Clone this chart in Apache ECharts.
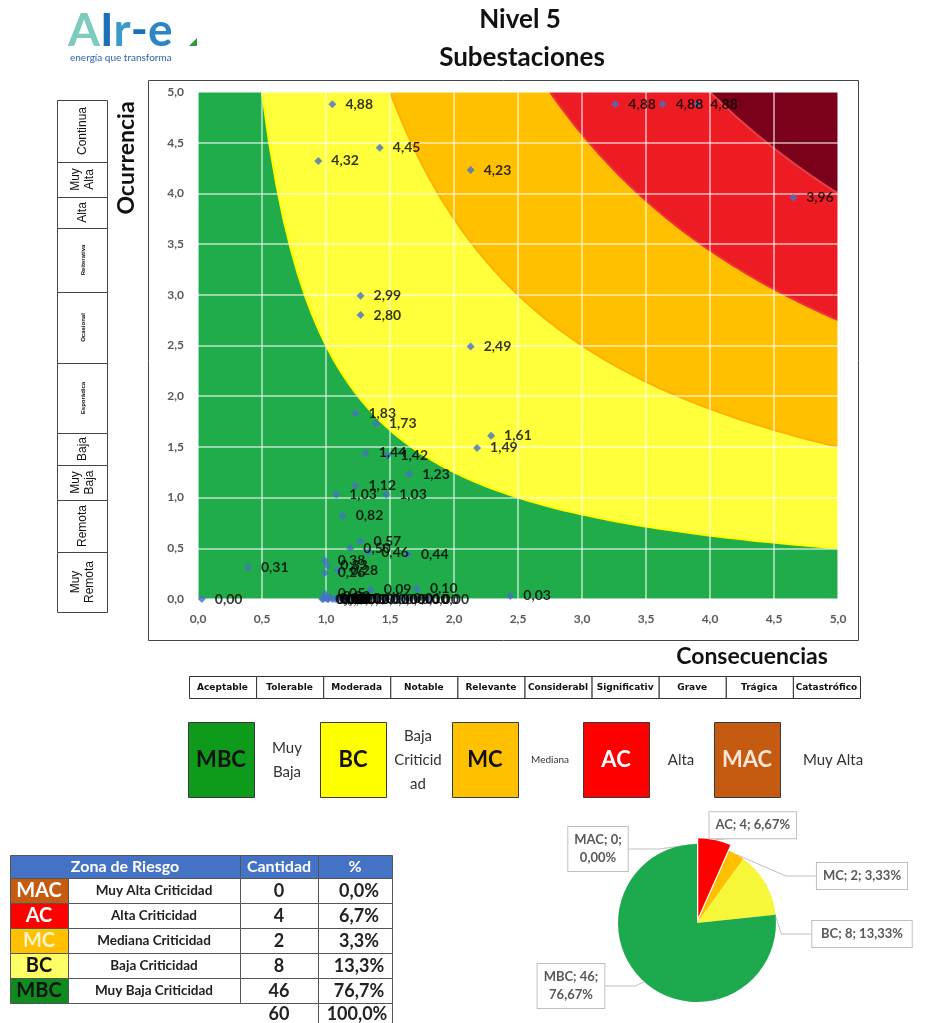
<!DOCTYPE html>
<html><head><meta charset="utf-8">
<script src="https://cdn.jsdelivr.net/npm/echarts@6/dist/echarts.min.js"></script>
<style>html,body{margin:0;padding:0;background:#fff}#c{width:925px;height:1023px}</style>
</head><body><div id="c"></div>
<script>
// ---------------- DATA ----------------
const consecuencias = [1.05,1.42,0.94,2.13,3.26,3.63,3.90,4.65,1.27,1.27,2.13,
  1.23,1.39,2.29,2.18,1.31,1.48,1.65,1.23,1.08,1.47,1.13,
  1.27,1.19,1.33,1.64,0.39,0.99,1.01,0.99,1.09,
  0.03,1.35,1.71,2.44,0.99,
  0.97,0.98,1.00,1.01,1.02,1.03,1.05,1.07,1.10,1.14,1.18,1.22,1.27,1.33,1.40,1.46,1.52,1.58,1.64,1.72,1.80];
const ocurrencia = [4.88,4.45,4.32,4.23,4.88,4.88,4.88,3.96,2.99,2.80,2.49,
  1.83,1.73,1.61,1.49,1.44,1.42,1.23,1.12,1.03,1.03,0.82,
  0.57,0.50,0.46,0.44,0.31,0.38,0.33,0.26,0.28,
  0.00,0.09,0.10,0.03,0.05,
  0.00,0.00,0.01,0.00,0.00,0.02,0.00,0.00,0.01,0.00,0.00,0.00,0.01,0.00,0.00,0.00,0.00,0.01,0.00,0.00,0.00];
const zoneThresholds = [2.5, 7.5, 13.75, 20];        // riesgo = consecuencia x ocurrencia
const zoneCodes = ['MAC','AC','MC','BC','MBC'];
const zoneNames = ['Muy Alta Criticidad','Alta Criticidad','Mediana Criticidad','Baja Criticidad','Muy Baja Criticidad'];
const zoneCounts = [0,4,2,8,46];
const zonePct = ['0,0%','6,7%','3,3%','13,3%','76,7%'];
const totalCount = '60', totalPct = '100,0%';
const consecLabels = ['Aceptable','Tolerable','Moderada','Notable','Relevante','Considerable','Significativo','Grave','Trágica','Catastrófico'];
const ocurrLabels = ['Continua','Muy\nAlta','Alta','Reiterativa','Ocasional','Esporádica','Baja','Muy\nBaja','Remota','Muy\nRemota'];
const legendCodes = ['MBC','BC','MC','AC','MAC'];
const legendTexts = ['Muy\nBaja','Baja\nCriticid\nad','Mediana','Alta','Muy Alta'];
const xTicks = 0.5, yTicks = 0.5;

// ---------------- STYLE ----------------
const F = 'Lato, "Open Sans", sans-serif';
const fmt = v => v.toFixed(2).replace('.', ',');
const areaFill = ['#FFFF3C','#FFC000','#ED1C24','#7B0019'];
const areaLine = ['#FFFF00','#FFB000','#F0303A','#E8404A'];
const pieColors = {MAC:'#C55A11', AC:'#FF0000', MC:'#FFC000', BC:'#F7F73A', MBC:'#1DAA4E'};
const codeFill = {MAC:['#C55A11','#fff'], AC:['#FF0000','#fff'], MC:['#FFC000','#FFF2CC'], BC:['#FFFF66','#111'], MBC:['#0E8C1E','#111']};
const legFill = {MBC:['#0E9A1A','#111'], BC:['#FFFF00','#111'], MC:['#FFC000','#111'], AC:['#FF0000','#fff'], MAC:['#C55A11','#FBE5D6']};

function boundary(k){
  const pts = [];
  const x0 = k/5;
  for (let i=0;i<=80;i++){ const x = x0 + (5-x0)*i/80; pts.push([x, k/x]); }
  return pts;
}

const g = [];
// logo
g.push({type:'text', left:68, top:8, style:{text:'{a|A}{b|I}{c|r}{d|-}{e|e}', font:'bold 46px '+F,
  rich:{a:{fill:'#7ccbbd', font:'bold 46px '+F}, b:{fill:'#1d6fb8', font:'bold 46px '+F}, c:{fill:'#3a9bc9', font:'bold 46px '+F},
        d:{fill:'#1d6fb8', font:'bold 46px '+F}, e:{fill:'#2a86c6', font:'bold 46px '+F}}}});
g.push({type:'polygon', shape:{points:[[189,46],[197,38],[197,46]]}, style:{fill:'#2e9a3a'}});
g.push({type:'text', left:70, top:53, style:{text:'energía que transforma', font:'10px '+F, fill:'#2f5fae'}});
// titles
g.push({type:'text', x:520, y:20, style:{text:'Nivel 5', font:'bold 26px '+F, fill:'#111', align:'center', verticalAlign:'middle'}});
g.push({type:'text', x:522, y:58, style:{text:'Subestaciones', font:'bold 26px '+F, fill:'#111', align:'center', verticalAlign:'middle'}});
// chart frame
g.push({type:'rect', shape:{x:148.5,y:80.5,width:710,height:560}, style:{fill:'none', stroke:'#444', lineWidth:1}, z:-1});
// axis titles
g.push({type:'text', x:127, y:158, rotation:Math.PI/2, style:{text:'Ocurrencia', font:'bold 23px '+F, fill:'#111', align:'center', verticalAlign:'middle'}});
g.push({type:'text', x:752, y:657, style:{text:'Consecuencias', font:'bold 23px '+F, fill:'#111', align:'center', verticalAlign:'middle'}});
// ocurrencia table (left)
const oB = [100,162,197,228,292,363,433,465,500,552,612];
ocurrLabels.forEach((t,i)=>{
  const y0=oB[i], y1=oB[i+1];
  g.push({type:'rect', shape:{x:57.5,y:y0+0.5,width:50,height:y1-y0}, style:{fill:'#fff', stroke:'#444', lineWidth:1}});
  const small = (t==='Reiterativa'||t==='Ocasional'||t==='Esporádica');
  g.push({type:'text', x:83, y:(y0+y1)/2, rotation:Math.PI/2, style:{text:t, font:(small?'bold 6px ':'12px ')+'"Liberation Sans", Arial, sans-serif', fill:'#111', align:'center', verticalAlign:'middle', lineHeight:14}});
});
// consecuencias row
consecLabels.forEach((t,i)=>{
  const x0 = 189 + i*67.1;
  g.push({type:'rect', shape:{x:x0+0.5,y:676.5,width:67.1,height:22}, style:{fill:'#fff', stroke:'#333', lineWidth:1}});
  g.push({type:'text', x:x0+33.5, y:688, style:{text:t, font:'bold 9px "DejaVu Sans", sans-serif', fill:'#111', align:'center', verticalAlign:'middle', width:64, overflow:'truncate', ellipsis:''}});
});
// legend boxes
const legX = [188,320,452,583,714];
const legTX = [287,418,550,681,833];
legendCodes.forEach((c,i)=>{
  g.push({type:'rect', shape:{x:legX[i]+0.5,y:722.5,width:66,height:75}, style:{fill:legFill[c][0], stroke:'#3a3a3a', lineWidth:1}});
  g.push({type:'text', x:legX[i]+33, y:760, style:{text:c, font:'bold 22px '+F, fill:legFill[c][1], align:'center', verticalAlign:'middle'}});
  const small = c==='MC';
  g.push({type:'text', x:legTX[i], y:760, style:{text:legendTexts[i], font:(small?'10px ':'15px ')+F, fill:'#333', align:'center', verticalAlign:'middle', lineHeight:24}});
});
// data table
const cx = [10,68,240,318,392];
g.push({type:'rect', shape:{x:cx[0]+0.5,y:855.5,width:cx[4]-cx[0],height:23}, style:{fill:'#4472C4', stroke:'#555', lineWidth:1}});
g.push({type:'line', shape:{x1:cx[2]+0.5,y1:855,x2:cx[2]+0.5,y2:878}, style:{stroke:'#555'}});
g.push({type:'line', shape:{x1:cx[3]+0.5,y1:855,x2:cx[3]+0.5,y2:878}, style:{stroke:'#555'}});
[['Zona de Riesgo',(cx[0]+cx[2])/2],['Cantidad',(cx[2]+cx[3])/2],['%',(cx[3]+cx[4])/2]].forEach(h=>{
  g.push({type:'text', x:h[1], y:867, style:{text:h[0], font:'bold 16px '+F, fill:'#fff', align:'center', verticalAlign:'middle'}});
});
zoneCodes.forEach((c,i)=>{
  const y0 = 878 + i*25;
  g.push({type:'rect', shape:{x:cx[0]+0.5,y:y0+0.5,width:cx[1]-cx[0],height:25}, style:{fill:codeFill[c][0], stroke:'#555', lineWidth:1}});
  g.push({type:'text', x:(cx[0]+cx[1])/2, y:y0+13, style:{text:c, font:'bold 20px '+F, fill:codeFill[c][1], align:'center', verticalAlign:'middle'}});
  for (let j=1;j<4;j++) g.push({type:'rect', shape:{x:cx[j]+0.5,y:y0+0.5,width:cx[j+1]-cx[j],height:25}, style:{fill:'#fff', stroke:'#555', lineWidth:1}});
  g.push({type:'text', x:(cx[1]+cx[2])/2, y:y0+13, style:{text:zoneNames[i], font:'bold 13.5px '+F, fill:'#222', align:'center', verticalAlign:'middle'}});
  g.push({type:'text', x:(cx[2]+cx[3])/2, y:y0+13, style:{text:String(zoneCounts[i]), font:'bold 18px '+F, fill:'#222', align:'center', verticalAlign:'middle'}});
  g.push({type:'text', x:(cx[3]+cx[4])/2+4, y:y0+13, style:{text:zonePct[i], font:'bold 18px '+F, fill:'#222', align:'center', verticalAlign:'middle'}});
});
g.push({type:'rect', shape:{x:cx[3]+0.5,y:1003.5,width:cx[4]-cx[3],height:22}, style:{fill:'#fff', stroke:'#555', lineWidth:1}});
g.push({type:'text', x:(cx[2]+cx[3])/2, y:1014, style:{text:totalCount, font:'bold 18px '+F, fill:'#222', align:'center', verticalAlign:'middle'}});
g.push({type:'text', x:(cx[3]+cx[4])/2+2, y:1014, style:{text:totalPct, font:'bold 18px '+F, fill:'#222', align:'center', verticalAlign:'middle'}});

// series
const series = zoneThresholds.map((k,i)=>({
  type:'line', data:boundary(k), showSymbol:false, symbol:'none', silent:true, z:2+i*0.01,
  lineStyle:{color:areaLine[i], width:2}, areaStyle:{color:areaFill[i], origin:'end', opacity:1}
}));
series.push({
  type:'scatter', z:5, symbol:'diamond', symbolSize:8, itemStyle:{color:'#4472C4'},
  data: consecuencias.map((x,i)=>[x, ocurrencia[i]]),
  label:{show:true, position:'right', distance:9, formatter:p=>fmt(p.value[1]), color:'#000', fontWeight:'bold', fontSize:14, fontFamily:F}
});
const pieLabelPos = {MAC:[598,849], AC:[806,844], MC:[862,876], BC:[862,934], MBC:[571,986]};
const pieOrder = ['MAC','AC','MC','BC','MBC'];
series.push({
  type:'pie', center:[697,923], radius:79, startAngle:90, clockwise:true, selectedMode:'single', selectedOffset:6,
  percentPrecision:2, animation:false,
  data: pieOrder.map(c=>{ const i=zoneCodes.indexOf(c); return {name:c, value:zoneCounts[i], selected:c==='AC', itemStyle:{color:pieColors[c]}}; }),
  label:{show:true, formatter:p=>{ const pc = p.percent.toFixed(2).replace('.',',')+'%'; return (p.name==='MAC'||p.name==='MBC') ? p.name+'; '+p.value+';\n'+pc : p.name+'; '+p.value+'; '+pc; },
    color:'#595959', fontWeight:'bold', fontSize:13, fontFamily:F, backgroundColor:'#fff', borderColor:'#BFBFBF', borderWidth:1, padding:[4,6], lineHeight:18},
  labelLine:{show:true, lineStyle:{color:'#BFBFBF'}},
  labelLayout: p => { const n = pieOrder[p.dataIndex]; const pos = pieLabelPos[n]; return {x:pos[0], y:pos[1], align:'center', verticalAlign:'middle'}; },
  emphasis:{disabled:true}
});

const axisCommon = {
  type:'value', min:0, max:5, z:3,
  axisLine:{show:false}, axisTick:{show:false},
  splitLine:{show:true, lineStyle:{color:'rgba(255,255,255,0.7)', width:1.5}},
  axisLabel:{formatter:v=>v.toFixed(1).replace('.',','), color:'#595959', fontWeight:'bold', fontSize:12, fontFamily:F}
};
const chart = echarts.init(document.getElementById('c'), null, {renderer:'canvas'});
chart.setOption({
  animation:false,
  backgroundColor:'#fff',
  grid:{left:198, top:92, width:640, height:507, show:true, backgroundColor:'#21AC4B', borderWidth:0},
  xAxis:Object.assign({}, axisCommon, {interval:xTicks, axisLabel:Object.assign({}, axisCommon.axisLabel, {margin:14})}),
  yAxis:Object.assign({}, axisCommon, {interval:yTicks, axisLabel:Object.assign({}, axisCommon.axisLabel, {margin:14})}),
  series: series,
  graphic: g
});
</script></body></html>
